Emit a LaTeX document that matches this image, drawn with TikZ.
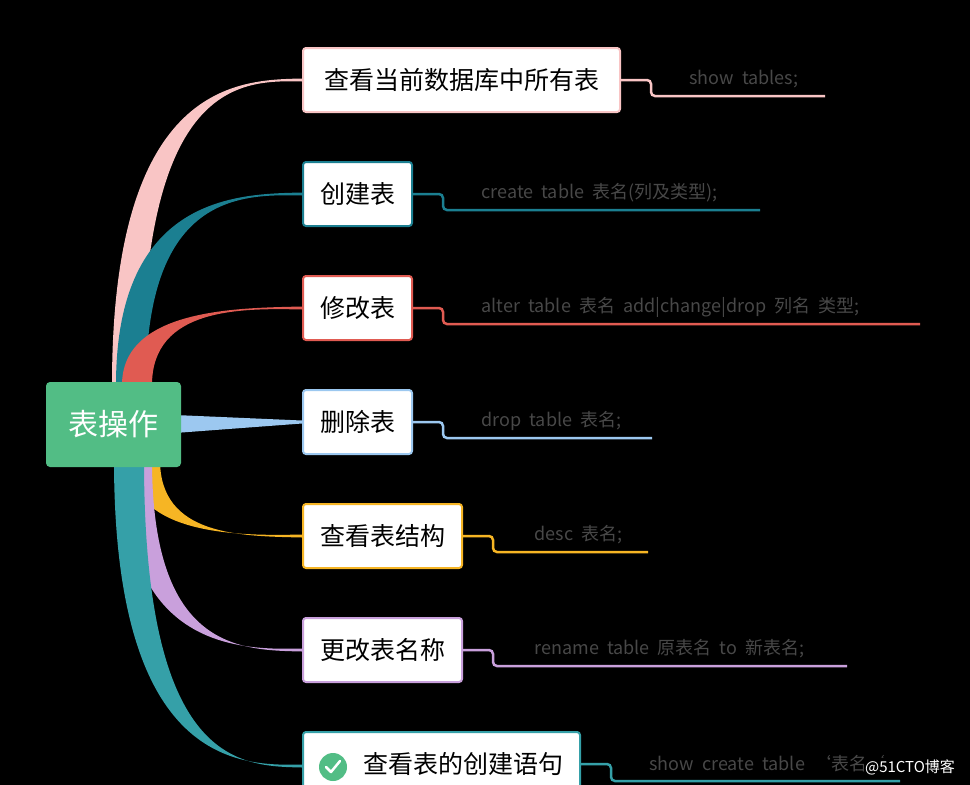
\documentclass[tikz,border=0pt]{standalone}
\usepackage{fontspec}
\setmainfont{Noto Sans CJK SC}
\definecolor{rootgreen}{HTML}{52BD85}
\definecolor{cpink}{HTML}{F9C5C5}
\definecolor{cteal}{HTML}{1B7F91}
\definecolor{cred}{HTML}{E05B52}
\definecolor{cblue}{HTML}{9CC8F0}
\definecolor{cyellow}{HTML}{F6B524}
\definecolor{cpurple}{HTML}{C9A0DC}
\definecolor{cteal2}{HTML}{35A0A8}
\definecolor{cmdgray}{HTML}{484848}
\newcommand{\branchfill}[4]{%
\fill[#1] (#2-14,#3) .. controls (#2-14,#4) and (240,#4) .. (302,#4-1.5) -- (302,#4+1.5) .. controls (240,#4) and (#2+16,#4) .. (#2+16,#3) -- cycle;}
\begin{document}
\begin{tikzpicture}[x=1pt,y=-1pt]

\tikzstyle{topic} = [rectangle, rounded corners=3pt, fill=white, line width=2pt, anchor=west, minimum height=64pt, inner xsep=17pt, font=\fontsize{25}{25}\selectfont, text=black]
\tikzstyle{cmd} = [anchor=west, text=cmdgray, font=\fontsize{18}{18}\selectfont]
\tikzstyle{lead} = [line width=2.5pt, rounded corners=4pt]
\fill[black] (0,0) rectangle (970,785);
\useasboundingbox (0,0) rectangle (970,785);
% branches
\branchfill{cpink}{126}{385}{80}
\branchfill{cteal}{130}{385}{194}
\branchfill{cred}{136}{385}{308}
\fill[cblue] (175,415) -- (302,420.5) -- (302,423.5) -- (175,433) -- cycle;
\branchfill{cyellow}{144}{460}{536}
\branchfill{cpurple}{136}{460}{650}
\branchfill{cteal2}{128}{460}{766}
\node (root) [rectangle, rounded corners=4pt, fill=rootgreen, minimum width=135pt, minimum height=85pt, text=white, font=\fontsize{30}{30}\selectfont] at (113.5,424.5) {表操作};
% topics
\node (show) [topic, draw=cpink, inner xsep=21pt] at (302,80) {查看当前数据库中所有表};
\node (create) [topic, draw=cteal] at (302,194) {创建表};
\node (alter) [topic, draw=cred] at (302,308) {修改表};
\node (drop) [topic, draw=cblue] at (302,422) {删除表};
\node (desc) [topic, draw=cyellow] at (302,536) {查看表结构};
\node (rename) [topic, draw=cpurple] at (302,650) {更改表名称};
\node (showc) [topic, draw=cteal2, text width=243pt, align=right] at (302,764) {查看表的创建语句};
\fill[rootgreen] (333,767) circle (14);
\draw[white, line width=2.5pt, line cap=round, line join=round] (326,767) -- (331,772) -- (340,761);
% commands
\coordinate (e1) at (825,96);
\coordinate (e2) at (760,210);
\coordinate (e3) at (920,324);
\coordinate (e4) at (652,438);
\coordinate (e5) at (648,552);
\coordinate (e6) at (847,666);
\coordinate (e7) at (900,781);
\draw[lead, cpink] (show.east) -| ++(30,16) -- (e1);
\draw[lead, cteal] (create.east) -| ++(30,16) -- (e2);
\draw[lead, cred] (alter.east) -| ++(30,16) -- (e3);
\draw[lead, cblue] (drop.east) -| ++(30,16) -- (e4);
\draw[lead, cyellow] (desc.east) -| ++(30,16) -- (e5);
\draw[lead, cpurple] (rename.east) -| ++(30,16) -- (e6);
\draw[lead, cteal2] (showc.east) -| ++(30,17) -- (e7);
\node (c1) [cmd] at (686,79) {show\ \ tables;};
\node (c2) [cmd] at (478,193) {create\ \ table\ \ 表名(列及类型);};
\node (c3) [cmd] at (478,307) {alter\ \ table\ \ 表名\ \ add|change|drop\ \ 列名\ \ 类型;};
\node (c4) [cmd] at (478,421) {drop\ \ table\ \ 表名;};
\node (c5) [cmd] at (531,535) {desc\ \ 表名;};
\node (c6) [cmd] at (531,649) {rename\ \ table\ \ 原表名\ \ to\ \ 新表名;};
\node (c7) [cmd] at (646,765) {show\ \ create\ \ table\ \ `表名`;};
\node (mark) [fill=black, text=white, inner sep=1pt, font=\fontsize{15}{15}\selectfont] at (910,767) {@51CTO博客};
\end{tikzpicture}
\end{document}
